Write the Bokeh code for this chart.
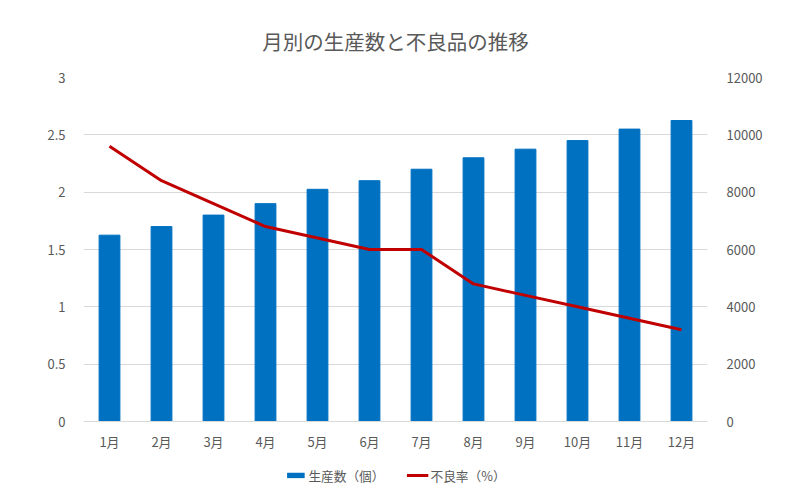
from bokeh.plotting import figure
from bokeh.layouts import column
from bokeh.models import Range1d, LinearAxis, FixedTicker, CustomJSTickFormatter, Legend, LegendItem
from bokeh.embed import file_html
from bokeh.resources import INLINE

months = ["1月", "2月", "3月", "4月", "5月", "6月", "7月", "8月", "9月", "10月", "11月", "12月"]
production = [6500, 6800, 7200, 7600, 8100, 8400, 8800, 9200, 9500, 9800, 10200, 10500]
defect_rate = [2.4, 2.1, 1.9, 1.7, 1.6, 1.5, 1.5, 1.2, 1.1, 1.0, 0.9, 0.8]
left_ticks = [0, 0.5, 1, 1.5, 2, 2.5, 3]
right_ticks = [0, 2000, 4000, 6000, 8000, 10000, 12000]
series_names = ["生産数（個）", "不良率（%）"]

FONT = "Noto Sans CJK JP"
TXT = "#595959"
BAR_C = "#0070C0"
LINE_C = "#C00000"
TICK_FS = "13px"

p = figure(frame_width=624, frame_height=344, x_range=months, y_range=Range1d(0, 3),
           output_backend="svg", toolbar_location=None,
           title="月別の生産数と不良品の推移",
           min_border_left=83, min_border_right=105, min_border_top=77, min_border_bottom=34)
p.extra_y_ranges = {"prod": Range1d(0, 12000)}
p.outline_line_color = None
p.background_fill_color = "white"
p.border_fill_color = "white"

p.title.align = "center"
p.title.text_font = FONT
p.title.text_font_size = "20.5px"
p.title.text_font_style = "normal"
p.title.text_color = TXT
p.title.standoff = 43
p.title.offset = 8

p.xgrid.visible = False
p.ygrid.grid_line_color = "#d9d9d9"
p.ygrid.grid_line_width = 1
p.ygrid.ticker = FixedTicker(ticks=left_ticks)

bars = p.vbar(x=months, top=production, width=0.4, y_range_name="prod",
              fill_color=BAR_C, line_color=BAR_C)
line = p.line(x=months, y=defect_rate, line_color=LINE_C, line_width=3)

yl = p.yaxis[0]
yl.ticker = FixedTicker(ticks=left_ticks)
yl.formatter = CustomJSTickFormatter(code="return tick.toString();")
yl.axis_line_color = None
yl.major_tick_line_color = None
yl.minor_tick_line_color = None
yl.major_label_text_font = FONT
yl.major_label_text_font_size = TICK_FS
yl.major_label_text_color = TXT
yl.major_label_standoff = 12

yr = LinearAxis(y_range_name="prod", ticker=FixedTicker(ticks=right_ticks))
yr.axis_line_color = None
yr.major_tick_line_color = None
yr.minor_tick_line_color = None
yr.major_label_text_font = FONT
yr.major_label_text_font_size = TICK_FS
yr.major_label_text_color = TXT
yr.major_label_standoff = 13
p.add_layout(yr, "right")

xa = p.xaxis[0]
xa.axis_line_color = "#d9d9d9"
xa.major_tick_line_color = None
xa.minor_tick_line_color = None
xa.major_label_text_font = FONT
xa.major_label_text_font_size = TICK_FS
xa.major_label_text_color = TXT
xa.major_label_standoff = 4

# legend strip: its two renderers are zero-sized, only their legend glyphs show
lg = figure(width=812, height=40, x_range=Range1d(0, 1), y_range=Range1d(0, 1),
            output_backend="svg", toolbar_location=None,
            x_axis_location=None, y_axis_location=None,
            min_border_left=0, min_border_right=8, min_border_top=0, min_border_bottom=0)
lg.outline_line_color = None
lg.xgrid.visible = False
lg.ygrid.visible = False
lb = lg.vbar(x=[0.5], top=[0], bottom=[0], width=0, fill_color=BAR_C, line_color=BAR_C, line_alpha=0)
ll = lg.line(x=[0.5, 0.5], y=[0.5, 0.5], line_color=LINE_C, line_width=3)

legend = Legend(items=[LegendItem(label=series_names[0], renderers=[lb]),
                       LegendItem(label=series_names[1], renderers=[ll])],
                orientation="horizontal", location="center",
                glyph_width=22, glyph_height=7, label_standoff=2, spacing=22,
                label_text_font=FONT, label_text_font_size="12.7px", label_text_color=TXT,
                border_line_color=None, background_fill_alpha=0, padding=2, margin=0)
lg.add_layout(legend)

layout = column(p, lg, spacing=0)
open("out.html", "w").write(file_html(layout, INLINE))
